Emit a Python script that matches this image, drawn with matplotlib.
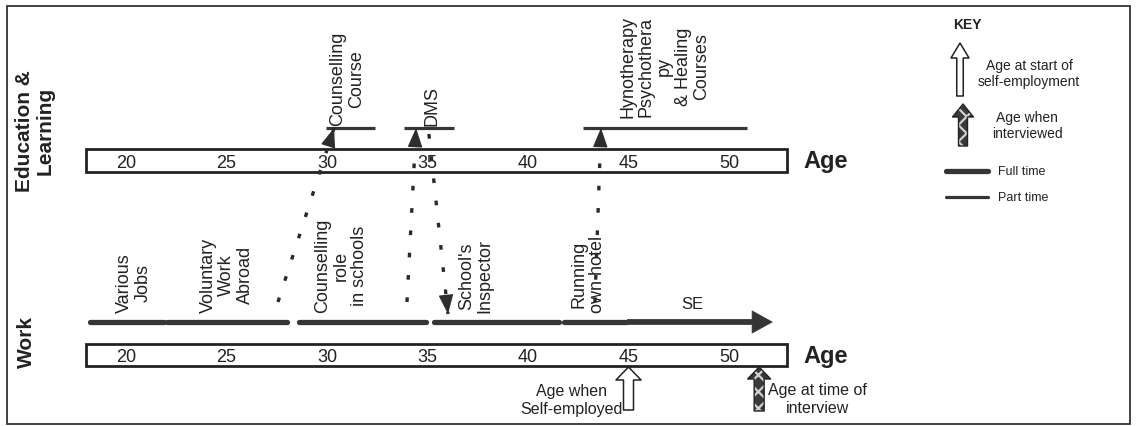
import matplotlib
matplotlib.use('Agg')
import matplotlib.pyplot as plt
from matplotlib.patches import Rectangle, FancyArrowPatch, ArrowStyle
import numpy as np

plt.rcParams['font.family'] = ['Liberation Sans', 'DejaVu Sans']

# ---------------- data ----------------
age_ticks = [20, 25, 30, 35, 40, 45, 50]
age_axis_start, age_axis_end = 18.0, 52.9

edu_labels = ["Counselling\nCourse", "DMS",
              "Hynotherapy\nPsychothera\npy\n& Healing\nCourses"]
edu_start = [29.95, 33.85, 42.75]
edu_end = [32.4, 36.3, 50.9]
edu_label_age = [31.0, 35.2, 46.8]
edu_type = ["part", "part", "part"]

work_labels = ["Various\nJobs", "Voluntary\nWork\nAbroad", "Counselling\nrole\nin schools",
               "School's\nInspector", "Running\nown hotel", "SE"]
work_start = [18.15, 22.0, 28.55, 35.25, 41.75, 44.95]
work_end = [21.95, 28.05, 35.0, 41.6, 44.95, 52.15]
work_label_age = [20.4, 25.0, 30.7, 37.4, 43.0, 48.2]
work_type = ["full", "full", "full", "full", "full", "full"]

link_from = [27.56, 33.98, 35.07, 43.33]
link_to = [30.35, 34.43, 36.02, 43.63]
link_dir = ["up", "up", "down", "up"]

self_employed_age = 45.0
interview_age = 51.5

# ---------------- layout (pixel rows) ----------------
W, H = 1136, 427
EDU_BAR = (150, 173)
EDU_LINE = 129
WORK_BAR = (345, 367)
WORK_LINE = 323
INK = '#222222'
LINE_C = '#353535'

fig = plt.figure(figsize=(W / 100, H / 100), dpi=100)
fig.patch.set_facecolor('white')
ax = fig.add_axes([0, 0, 1, 1])
px_per_year = 20.1
ax.set_xlim(20 - 126 / px_per_year, 20 + (W - 126) / px_per_year)
ax.set_ylim(H, 0)
ax.axis('off')

# outer frame
fig.patches.append(Rectangle((7 / W, 2 / H), (1130 - 7) / W, (425 - 7) / H,
                             transform=fig.transFigure, fill=False, ec='#333', lw=1.3))


def tA(px, py):
    return (px / W, 1 - py / H)


# ---------------- age bars ----------------
for (top, bot) in [EDU_BAR, WORK_BAR]:
    ax.add_patch(Rectangle((age_axis_start, top), age_axis_end - age_axis_start, bot - top,
                           fc='white', ec=INK, lw=2.0, zorder=2))
    for a in age_ticks:
        ax.text(a, (top + bot) / 2 + 2, str(a), ha='center', va='center',
                fontsize=13, color=INK, zorder=3)
    ax.text(age_axis_end + 0.8, (top + bot) / 2 + 0.5, "Age", ha='left', va='center',
            fontsize=17, fontweight='bold', color=INK)

# section labels
ax.text(*tA(35, 131), "Education &\nLearning", transform=ax.transAxes, rotation=90,
        ha='center', va='center', fontsize=15, fontweight='bold', color=INK, linespacing=1.1)
ax.text(*tA(26, 342), "Work", transform=ax.transAxes, rotation=90,
        ha='center', va='center', fontsize=15, fontweight='bold', color=INK)

lw_map = {"full": 3.8, "part": 2.3}
ROT_FS = 13
ROT_LS = 1.12

# ---------------- education segments ----------------
edu_label_bottom = [126, 126, 118]
for s, e, lab, la, t, lb in zip(edu_start, edu_end, edu_labels, edu_label_age, edu_type, edu_label_bottom):
    ax.plot([s, e], [EDU_LINE, EDU_LINE], color=LINE_C, lw=lw_map[t], solid_capstyle='butt', zorder=3)
    ax.text(la, lb, lab, rotation=90, ha='center', va='bottom', multialignment='center',
            fontsize=ROT_FS, color=INK, linespacing=ROT_LS)

# ---------------- work segments ----------------
for i, (s, e, lab, la, t) in enumerate(zip(work_start, work_end, work_labels, work_label_age, work_type)):
    if lab == "SE":
        style = ArrowStyle.Simple(head_length=14.5, head_width=16, tail_width=3.8)
        ax.add_patch(FancyArrowPatch((s, WORK_LINE), (e, WORK_LINE), arrowstyle=style,
                                     mutation_scale=1, shrinkA=0, shrinkB=0,
                                     fc=LINE_C, ec=LINE_C, lw=0.5, zorder=3))
        ax.text(la, WORK_LINE - 18, lab, ha='center', va='center', fontsize=12, color=INK)
    else:
        ax.plot([s + 0.05, e - 0.05], [WORK_LINE, WORK_LINE], color=LINE_C, lw=lw_map[t],
                solid_capstyle='round', zorder=3)
        ax.text(la, 313, lab, rotation=90, ha='center', va='bottom', multialignment='center',
                fontsize=ROT_FS, color=INK, linespacing=ROT_LS)

# ---------------- dotted transition links ----------------
fig.canvas.draw()
for a0, a1, d in zip(link_from, link_to, link_dir):
    if d == "up":
        y0, y1 = 303, EDU_LINE
    else:
        y0, y1 = 135, WORK_LINE - 8
    ax.plot([a0, a1], [y0, y1], ls=(0, (1.4, 5.3)), lw=2.4, color='#2a2a2a',
            dash_capstyle='butt', zorder=4)
    p0 = ax.transData.transform((a0, y0))
    p1 = ax.transData.transform((a1, y1))
    L = np.hypot(*(p1 - p0))
    t = 1 - 17 / L
    pa = ax.transData.inverted().transform(p0 + t * (p1 - p0))
    ax.add_patch(FancyArrowPatch(tuple(pa), (a1, y1),
                                 arrowstyle=ArrowStyle("-|>", head_length=12, head_width=4.6),
                                 mutation_scale=1, shrinkA=0, shrinkB=0,
                                 fc='#2e2e2e', ec='#2e2e2e', lw=1.0, zorder=5))


# ---------------- block arrows ----------------
def block_arrow(target, x, y0, y1, hw, hl, tw, patterned=False):
    style = ArrowStyle.Simple(head_length=hl * 0.72, head_width=hw * 0.72, tail_width=tw * 0.72)
    kw = dict(arrowstyle=style, mutation_scale=1, shrinkA=0, shrinkB=0, zorder=6)
    if patterned:
        target.add_patch(FancyArrowPatch((x, y0), (x, y1), fc='#3a3a3a', ec='none', lw=0, **kw))
        target.add_patch(FancyArrowPatch((x, y0), (x, y1), fc='none', ec='#d0d0d0', lw=0,
                                         hatch='xx', **kw))
        target.add_patch(FancyArrowPatch((x, y0), (x, y1), fc='none', ec=INK, lw=1.0, **kw))
    else:
        target.add_patch(FancyArrowPatch((x, y0), (x, y1), fc='white', ec=INK, lw=1.1, **kw))


plt.rcParams['hatch.linewidth'] = 1.6
block_arrow(ax, self_employed_age, 411, 368, 25, 13, 10)
block_arrow(ax, interview_age, 412, 368, 23, 12, 10, patterned=True)
ax.text(self_employed_age - 2.85, 401, "Age when\nSelf-employed", ha='center', va='center',
        fontsize=11.5, color=INK, linespacing=1.25)
ax.text(interview_age + 2.9, 400, "Age at time of\ninterview", ha='center', va='center',
        fontsize=11.5, color=INK, linespacing=1.25)

# ---------------- key ----------------
kax = fig.add_axes([0, 0, 1, 1])
kax.set_xlim(0, W)
kax.set_ylim(H, 0)
kax.axis('off')
kax.patch.set_alpha(0)

kax.text(967, 25, "KEY", ha='center', va='center', fontsize=10, fontweight='bold', color=INK)

block_arrow(kax, 960, 97, 44, 18, 15, 6.5)
kax.text(1029, 74, "Age at start of\nself-employment", ha='center', va='center',
         fontsize=10, color=INK, linespacing=1.25)
block_arrow(kax, 963, 147, 105, 21, 13, 9, patterned=True)
kax.text(1027, 126, "Age when\ninterviewed", ha='center', va='center',
         fontsize=10, color=INK, linespacing=1.25)
kax.plot([946, 988], [172, 172], color=LINE_C, lw=lw_map["full"], solid_capstyle='round')
kax.text(998, 172, "Full time", ha='left', va='center', fontsize=9, color=INK)
kax.plot([946, 988], [198, 198], color=LINE_C, lw=lw_map["part"], solid_capstyle='round')
kax.text(998, 198, "Part time", ha='left', va='center', fontsize=9, color=INK)

fig.savefig('out.png', dpi=100, facecolor='white')
